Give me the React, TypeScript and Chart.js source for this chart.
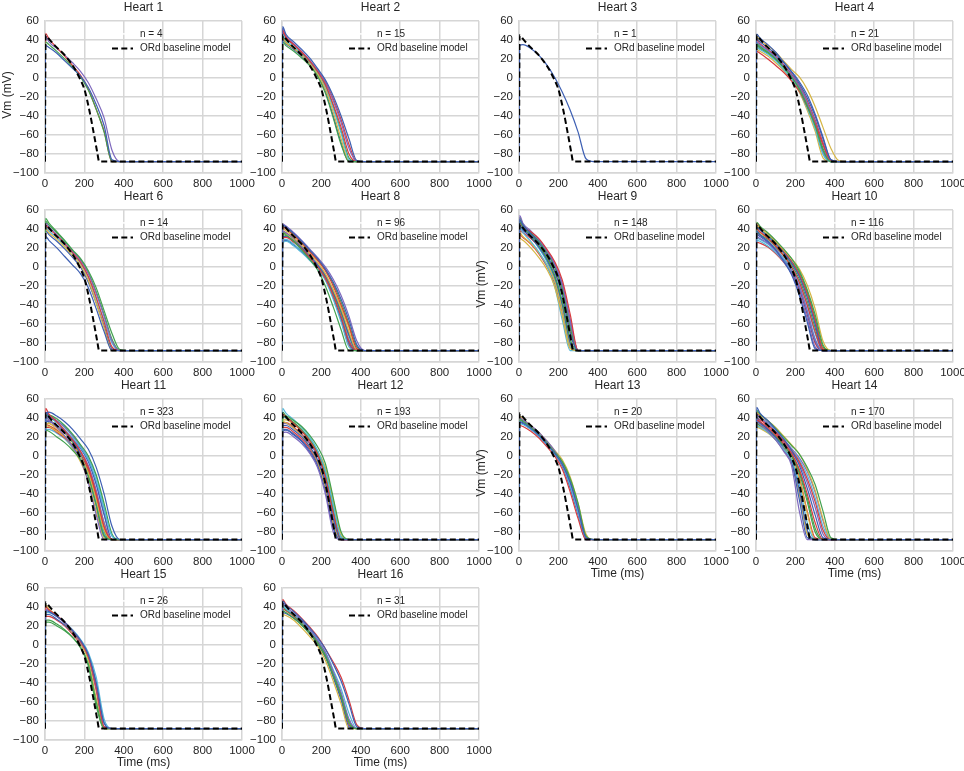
import { useEffect, useRef } from 'react';
import { Chart, LineController, LineElement, PointElement, LinearScale } from 'chart.js';

Chart.register(LineController, LineElement, PointElement, LinearScale);

// sample times (ms) shared by every trace; each trace stops once it is back at rest
const TIMES = [0, 3, 20, 60, 100, 140, 180, 220, 260, 300, 340, 380, 420, 460];
const END_TIME = 1000;
const REST_VM = -88;

// ORd baseline model
const ORD_TIMES = [0, 3, 20, 50, 100, 150, 175, 200, 225, 250, 265, 275, 1000];
const ORD_VM = [-88, 45, 41, 34, 24, 10, 0, -12, -34, -61, -78, -88, -88];

const X_TICKS = [0, 200, 400, 600, 800, 1000];
const Y_TICKS = [-100, -80, -60, -40, -20, 0, 20, 40, 60];

const HEART_NAMES = ['Heart 1', 'Heart 2', 'Heart 3', 'Heart 4', 'Heart 6', 'Heart 8', 'Heart 9',
  'Heart 10', 'Heart 11', 'Heart 12', 'Heart 13', 'Heart 14', 'Heart 15', 'Heart 16'];
const HEART_COUNTS = [4, 15, 1, 21, 14, 96, 148, 116, 323, 193, 20, 170, 26, 31];

const HEART_1 = [
  [-88, 34, 32, 26, 18, 10, 2, -10, -28, -50, -86, -88],
  [-88, 38, 35, 28, 20, 11, 1, -13, -33, -57, -88],
  [-88, 47, 41, 32, 23, 13, 3, -12, -33, -56, -88],
  [-88, 44, 38, 31, 24, 16, 7, -5, -22, -42, -76, -88],
];
const HEART_2 = [
  [-88, 54, 46, 38, 30, 21, 10, -2, -19, -40, -64, -87, -88],
  [-88, 38, 34, 28, 21, 13, 2, -16, -42, -70, -88],
  [-88, 50, 43, 35, 27, 18, 7, -7, -28, -52, -80, -88],
  [-88, 52, 44, 36, 28, 19, 8, -5, -24, -47, -74, -88],
  [-88, 42, 37, 31, 24, 15, 4, -12, -36, -64, -88],
  [-88, 46, 40, 33, 25, 16, 5, -10, -32, -58, -86, -88],
  [-88, 40, 36, 30, 23, 14, 3, -14, -40, -68, -88],
  [-88, 44, 38, 32, 25, 17, 6, -8, -30, -56, -84, -88],
  [-88, 48, 42, 35, 27, 18, 8, -4, -22, -44, -70, -88],
];
const HEART_3 = [
  [-88, 34, 35, 31, 24, 14, 1, -15, -34, -57, -85, -88],
];
const HEART_4 = [
  [-88, 46, 42, 35, 27, 17, 7, -4, -18, -38, -62, -86, -88],
  [-88, 36, 33, 27, 20, 11, 1, -12, -30, -50, -76, -88],
  [-88, 28, 26, 20, 13, 6, -3, -14, -30, -48, -70, -87, -88],
  [-88, 38, 35, 29, 22, 13, 3, -9, -26, -46, -70, -88],
  [-88, 44, 40, 34, 27, 18, 9, 1, -12, -30, -52, -74, -87, -88],
  [-88, 32, 30, 25, 18, 9, -1, -14, -32, -53, -80, -88],
  [-88, 42, 38, 32, 25, 16, 6, -6, -21, -40, -64, -86, -88],
  [-88, 34, 31, 26, 19, 11, 1, -11, -28, -48, -74, -88],
  [-88, 40, 36, 30, 23, 14, 4, -8, -24, -44, -68, -88],
  [-88, 35, 32, 27, 20, 12, 2, -10, -28, -50, -78, -88],
  [-88, 30, 28, 23, 16, 8, -2, -15, -34, -56, -84, -88],
  [-88, 37, 34, 28, 21, 12, 2, -11, -30, -52, -80, -88],
];
const HEART_6 = [
  [-88, 32, 28, 20, 11, 2, -7, -22, -44, -68, -88],
  [-88, 51, 46, 37, 28, 18, 9, -4, -22, -46, -70, -87, -88],
  [-88, 44, 40, 33, 24, 15, 5, -10, -32, -58, -84, -88],
  [-88, 46, 42, 34, 25, 16, 7, -7, -28, -52, -78, -88],
  [-88, 40, 36, 29, 21, 12, 2, -14, -38, -64, -88],
  [-88, 42, 38, 31, 23, 14, 4, -11, -34, -56, -80, -88],
  [-88, 38, 34, 27, 19, 10, 0, -16, -38, -62, -86, -88],
  [-88, 48, 44, 36, 27, 17, 8, -6, -26, -50, -76, -88],
];
const HEART_8 = [
  [-88, 44, 42, 35, 27, 18, 9, -2, -16, -34, -56, -82, -88],
  [-88, 36, 34, 27, 18, 8, -3, -20, -42, -66, -88],
  [-88, 30, 31, 26, 19, 10, 0, -12, -30, -52, -78, -88],
  [-88, 45, 43, 36, 28, 19, 10, 0, -13, -30, -52, -78, -88],
  [-88, 40, 38, 31, 23, 14, 5, -7, -24, -44, -68, -88],
  [-88, 24, 27, 22, 15, 7, -2, -14, -34, -58, -84, -88],
  [-88, 32, 32, 27, 20, 11, 2, -9, -26, -46, -72, -88],
  [-88, 34, 33, 27, 19, 10, 1, -10, -28, -48, -72, -88],
  [-88, 42, 40, 33, 25, 16, 7, -4, -20, -40, -62, -86, -88],
  [-88, 38, 36, 30, 22, 13, 3, -9, -26, -46, -70, -88],
  [-88, 36, 35, 29, 21, 12, 3, -8, -24, -42, -64, -86, -88],
  [-88, 28, 29, 24, 17, 9, 0, -12, -30, -50, -76, -88],
  [-88, 26, 28, 23, 16, 8, -1, -13, -32, -54, -80, -88],
  [-88, 43, 41, 34, 26, 17, 8, -3, -18, -37, -60, -84, -88],
  [-88, 37, 36, 29, 20, 11, 1, -12, -32, -56, -82, -88],
];
const HEART_9 = [
  [-88, 50, 44, 35, 25, 13, -4, -30, -70, -88],
  [-88, 48, 42, 33, 23, 10, -8, -36, -76, -88],
  [-88, 46, 42, 37, 30, 19, 6, -14, -50, -88],
  [-88, 54, 46, 38, 29, 18, 4, -18, -56, -88],
  [-88, 30, 28, 20, 10, -2, -20, -52, -86, -88],
  [-88, 42, 36, 27, 16, 2, -20, -56, -88],
  [-88, 44, 39, 31, 21, 8, -10, -40, -80, -88],
  [-88, 52, 45, 36, 27, 15, 0, -24, -64, -88],
  [-88, 38, 36, 30, 22, 11, -4, -28, -68, -88],
  [-88, 40, 38, 33, 26, 15, 1, -22, -60, -88],
  [-88, 36, 32, 25, 15, 3, -14, -44, -82, -88],
  [-88, 44, 39, 31, 20, 6, -14, -46, -84, -88],
  [-88, 42, 40, 34, 27, 16, 2, -20, -58, -88],
  [-88, 46, 41, 32, 22, 9, -10, -40, -80, -88],
  [-88, 34, 31, 24, 14, 1, -17, -48, -84, -88],
  [-88, 48, 43, 36, 28, 17, 3, -18, -56, -88],
];
const HEART_10 = [
  [-88, 38, 34, 27, 18, 6, -8, -30, -58, -86, -88],
  [-88, 47, 43, 36, 28, 19, 9, -4, -24, -50, -82, -88],
  [-88, 40, 37, 30, 22, 12, 0, -16, -40, -68, -88],
  [-88, 32, 30, 25, 17, 6, -7, -27, -54, -84, -88],
  [-88, 44, 41, 35, 27, 18, 9, -2, -19, -44, -78, -88],
  [-88, 30, 29, 24, 17, 9, -1, -16, -40, -70, -88],
  [-88, 42, 39, 32, 24, 15, 4, -10, -32, -60, -88],
  [-88, 36, 34, 29, 21, 12, 2, -13, -36, -64, -88],
  [-88, 46, 42, 35, 27, 17, 6, -8, -28, -56, -86, -88],
  [-88, 35, 33, 27, 19, 9, -3, -20, -46, -76, -88],
  [-88, 38, 36, 30, 23, 14, 4, -9, -30, -58, -86, -88],
  [-88, 28, 27, 22, 15, 6, -4, -20, -46, -76, -88],
  [-88, 34, 32, 26, 18, 8, -4, -22, -48, -78, -88],
  [-88, 41, 39, 33, 25, 16, 6, -6, -26, -54, -84, -88],
  [-88, 26, 25, 21, 14, 5, -6, -24, -50, -80, -88],
];
const HEART_11 = [
  [-88, 44, 46, 42, 36, 28, 18, 7, -12, -40, -74, -88],
  [-88, 27, 26, 20, 14, 6, -4, -22, -52, -84, -88],
  [-88, 50, 44, 36, 27, 17, 5, -12, -40, -74, -88],
  [-88, 42, 38, 30, 21, 10, -4, -28, -62, -88],
  [-88, 32, 31, 26, 20, 11, 0, -18, -46, -78, -88],
  [-88, 40, 40, 35, 28, 19, 9, -4, -26, -56, -84, -88],
  [-88, 46, 42, 35, 27, 16, 2, -20, -52, -84, -88],
  [-88, 42, 43, 39, 32, 23, 12, 0, -20, -50, -82, -88],
  [-88, 30, 30, 25, 19, 11, 1, -14, -42, -76, -88],
  [-88, 38, 37, 32, 25, 16, 5, -10, -36, -70, -88],
  [-88, 34, 34, 30, 24, 15, 4, -12, -38, -70, -88],
  [-88, 28, 28, 24, 18, 9, -2, -20, -50, -82, -88],
  [-88, 36, 36, 32, 26, 18, 8, -6, -30, -62, -88],
  [-88, 40, 38, 32, 24, 14, 1, -16, -46, -80, -88],
  [-88, 33, 32, 27, 20, 11, 0, -16, -44, -78, -88],
  [-88, 45, 43, 37, 30, 21, 10, -4, -28, -60, -88],
  [-88, 38, 35, 28, 19, 8, -6, -26, -58, -86, -88],
  [-88, 41, 41, 37, 31, 22, 11, -2, -22, -54, -84, -88],
];
const HEART_12 = [
  [-88, 32, 32, 27, 20, 10, -4, -28, -66, -88],
  [-88, 40, 42, 37, 31, 22, 10, -8, -44, -80, -88],
  [-88, 44, 41, 34, 26, 16, 2, -22, -60, -88],
  [-88, 24, 25, 20, 13, 3, -12, -40, -80, -88],
  [-88, 36, 35, 29, 21, 10, -6, -32, -70, -88],
  [-88, 50, 45, 38, 30, 20, 6, -16, -52, -86, -88],
  [-88, 26, 27, 22, 15, 4, -10, -36, -76, -88],
  [-88, 46, 42, 35, 27, 17, 4, -18, -56, -88],
  [-88, 30, 30, 25, 18, 8, -6, -30, -70, -88],
  [-88, 34, 34, 29, 22, 13, 0, -24, -62, -88],
  [-88, 38, 38, 33, 26, 17, 5, -12, -46, -82, -88],
  [-88, 42, 40, 34, 27, 18, 6, -14, -50, -84, -88],
  [-88, 28, 28, 23, 16, 6, -8, -34, -74, -88],
  [-88, 41, 40, 35, 28, 18, 4, -18, -54, -86, -88],
  [-88, 35, 35, 30, 23, 14, 2, -20, -58, -88],
];
const HEART_13 = [
  [-88, 36, 35, 29, 22, 13, 3, -9, -28, -56, -86, -88],
  [-88, 38, 36, 30, 23, 14, 4, -6, -24, -50, -84, -88],
  [-88, 32, 31, 26, 19, 10, 0, -14, -38, -66, -88],
  [-88, 40, 38, 32, 25, 16, 6, -8, -28, -56, -86, -88],
  [-88, 42, 39, 32, 25, 16, 6, -4, -22, -50, -82, -88],
  [-88, 34, 33, 28, 21, 12, 2, -10, -32, -60, -88],
  [-88, 35, 34, 28, 21, 12, 2, -11, -34, -62, -88],
  [-88, 39, 37, 31, 24, 15, 5, -7, -26, -52, -84, -88],
];
const HEART_14 = [
  [-88, 51, 45, 37, 28, 18, 6, -10, -34, -62, -86, -88],
  [-88, 48, 44, 37, 29, 20, 11, 2, -12, -30, -58, -86, -88],
  [-88, 38, 36, 30, 22, 13, 3, -14, -40, -70, -88],
  [-88, 36, 33, 26, 17, 5, -10, -58, -88],
  [-88, 46, 43, 37, 30, 21, 12, 2, -14, -36, -66, -88],
  [-88, 32, 30, 25, 17, 7, -4, -30, -70, -88],
  [-88, 40, 36, 28, 19, 7, -6, -46, -86, -88],
  [-88, 34, 32, 27, 20, 11, 0, -18, -48, -80, -88],
  [-88, 40, 38, 32, 25, 16, 6, -6, -24, -48, -78, -88],
  [-88, 44, 40, 33, 25, 15, 4, -8, -28, -54, -82, -88],
  [-88, 30, 29, 24, 17, 8, -3, -24, -60, -88],
  [-88, 42, 40, 34, 26, 17, 7, -4, -20, -44, -74, -88],
  [-88, 38, 35, 28, 20, 9, -4, -36, -78, -88],
  [-88, 36, 34, 28, 21, 12, 2, -16, -44, -76, -88],
  [-88, 46, 41, 33, 24, 13, 1, -22, -58, -86, -88],
  [-88, 43, 41, 35, 27, 18, 8, -2, -16, -38, -68, -88],
  [-88, 34, 31, 25, 17, 6, -7, -40, -82, -88],
];
const HEART_15 = [
  [-88, 36, 35, 30, 24, 15, 5, -10, -40, -82, -88],
  [-88, 24, 24, 20, 15, 8, -2, -20, -60, -88],
  [-88, 40, 37, 31, 24, 15, 4, -12, -44, -86, -88],
  [-88, 38, 36, 30, 23, 14, 3, -12, -46, -86, -88],
  [-88, 42, 38, 31, 23, 13, 2, -16, -56, -88],
  [-88, 34, 34, 30, 24, 16, 6, -8, -34, -78, -88],
  [-88, 32, 32, 27, 21, 13, 3, -11, -40, -82, -88],
  [-88, 26, 26, 22, 16, 8, -3, -22, -64, -88],
  [-88, 30, 30, 26, 20, 11, 1, -14, -48, -88],
];
const HEART_16 = [
  [-88, 46, 42, 35, 27, 18, 8, -4, -20, -38, -62, -86, -88],
  [-88, 36, 34, 28, 21, 12, 2, -12, -32, -54, -82, -88],
  [-88, 48, 43, 36, 28, 19, 9, -4, -18, -34, -58, -84, -88],
  [-88, 44, 40, 33, 25, 16, 5, -8, -28, -50, -78, -88],
  [-88, 32, 31, 26, 18, 9, -1, -16, -38, -62, -88],
  [-88, 42, 38, 32, 25, 16, 6, -7, -26, -46, -72, -88],
  [-88, 34, 33, 28, 21, 12, 1, -13, -34, -58, -86, -88],
  [-88, 40, 37, 31, 23, 14, 4, -10, -30, -52, -80, -88],
  [-88, 38, 36, 30, 22, 13, 3, -11, -32, -56, -84, -88],
];

const HEART_TRACES = [HEART_1, HEART_2, HEART_3, HEART_4, HEART_6, HEART_8, HEART_9,
  HEART_10, HEART_11, HEART_12, HEART_13, HEART_14, HEART_15, HEART_16];

// panels that carry axis titles
const Y_LABEL_PANELS = [0, 6, 10];
const X_LABEL_PANELS = [10, 11, 12, 13];

const PALETTE = ['#3d5fb3', '#42a14f', '#d83c3f', '#7e68bd', '#d6b645', '#55b7d8'];
const GRID = '#d6d6d6';
const TEXT = '#262626';
const FONT = "'Liberation Sans', Arial, sans-serif";

// layout (px)
const COL_X = [45, 282, 519, 756];
const ROW_Y = [16, 205, 394, 583];
const PLOT_W = 197;
const PLOT_H = 157;
const AXIS_W = 45;
const AXIS_H = 22;
const PAD_TOP = 8;
const PAD_RIGHT = 18;

const fmtTick = (v: number) => (v < 0 ? '\u2212' + Math.abs(v) : String(v));

function legendPlugin(n: number) {
  return {
    id: 'apLegend',
    afterDatasetsDraw(chart: any) {
      const { ctx, chartArea } = chart;
      const { left, top } = chartArea;
      ctx.save();
      // invisible white handle of the "n =" entry
      ctx.strokeStyle = '#ffffff';
      ctx.lineWidth = 1.5;
      ctx.beginPath();
      ctx.moveTo(left + 67, top + 13);
      ctx.lineTo(left + 88, top + 13);
      ctx.stroke();
      ctx.strokeStyle = '#000000';
      ctx.lineWidth = 2;
      ctx.setLineDash([6, 3.3]);
      ctx.beginPath();
      ctx.moveTo(left + 67, top + 27.5);
      ctx.lineTo(left + 88, top + 27.5);
      ctx.stroke();
      ctx.setLineDash([]);
      ctx.fillStyle = TEXT;
      ctx.font = `10px ${FONT}`;
      ctx.textBaseline = 'middle';
      ctx.textAlign = 'left';
      ctx.fillText(`n = ${n}`, left + 95, top + 13);
      ctx.fillText('ORd baseline model', left + 95, top + 27.5);
      ctx.restore();
    },
  };
}

function HeartPanel({ index }: { index: number }) {
  const canvasRef = useRef<HTMLCanvasElement>(null);
  const col = index % 4;
  const row = Math.floor(index / 4);
  const x0 = COL_X[col];
  const y0 = ROW_Y[row];

  useEffect(() => {
    if (!canvasRef.current) return;
    const traces = HEART_TRACES[index];
    const datasets: any[] = [
      {
        data: ORD_TIMES.map((t, i) => ({ x: t, y: ORD_VM[i] })),
        borderColor: '#000000',
        borderWidth: 2,
        borderDash: [6, 3.3],
        pointRadius: 0,
        cubicInterpolationMode: 'monotone',
      },
      ...traces.map((tr, k) => ({
        data: [...tr.map((v, i) => ({ x: TIMES[i], y: v })), { x: END_TIME, y: REST_VM }],
        borderColor: PALETTE[k % PALETTE.length],
        borderWidth: 1.2,
        pointRadius: 0,
        cubicInterpolationMode: 'monotone',
      })),
    ];

    const tickFont = { family: FONT, size: 11.5 };
    const chart = new Chart(canvasRef.current, {
      type: 'line',
      data: { datasets },
      options: {
        animation: false,
        responsive: false,
        events: [],
        layout: { padding: { top: PAD_TOP, right: PAD_RIGHT, left: 0, bottom: 0 } },
        plugins: { legend: { display: false }, tooltip: { enabled: false } },
        scales: {
          x: {
            type: 'linear',
            min: 0,
            max: END_TIME,
            afterBuildTicks: (s: any) => { s.ticks = X_TICKS.map((v) => ({ value: v })); },
            afterFit: (s: any) => { s.height = AXIS_H; },
            grid: { color: GRID, lineWidth: 1.5, drawTicks: false },
            border: { color: GRID, width: 1.5 },
            ticks: { color: TEXT, font: tickFont, padding: 4, maxRotation: 0, autoSkip: false, callback: (v: any) => String(v) },
          },
          y: {
            type: 'linear',
            min: -100,
            max: 60,
            afterBuildTicks: (s: any) => { s.ticks = Y_TICKS.map((v) => ({ value: v })); },
            afterFit: (s: any) => { s.width = AXIS_W; },
            grid: { color: GRID, lineWidth: 1.5, drawTicks: false },
            border: { color: GRID, width: 1.5 },
            ticks: { color: TEXT, font: tickFont, padding: 6, autoSkip: false, callback: (v: any) => fmtTick(Number(v)) },
          },
        },
      } as any,
      plugins: [legendPlugin(HEART_COUNTS[index])],
    });
    return () => chart.destroy();
  }, [index]);

  const textBase = { position: 'absolute' as const, color: TEXT, fontFamily: FONT, fontSize: 12, textAlign: 'center' as const, whiteSpace: 'nowrap' as const };

  return (
    <>
      <canvas
        ref={canvasRef}
        width={AXIS_W + PLOT_W + PAD_RIGHT}
        height={PAD_TOP + PLOT_H + AXIS_H}
        style={{ position: 'absolute', left: x0 - AXIS_W, top: y0 - PAD_TOP }}
      />
      <div style={{ ...textBase, left: x0, top: y0 - 17, width: PLOT_W, height: 16, lineHeight: '16px' }}>
        {HEART_NAMES[index]}
      </div>
      {Y_LABEL_PANELS.includes(index) && (
        <div
          style={{
            ...textBase,
            left: x0 - 38 - 50,
            top: y0 + PLOT_H / 2 - 8,
            width: 100,
            height: 16,
            lineHeight: '16px',
            transform: 'rotate(-90deg)',
          }}
        >
          Vm (mV)
        </div>
      )}
      {X_LABEL_PANELS.includes(index) && (
        <div style={{ ...textBase, left: x0, top: y0 + PLOT_H + 22 - 8, width: PLOT_W, height: 16, lineHeight: '16px' }}>
          Time (ms)
        </div>
      )}
    </>
  );
}

export default function App() {
  return (
    <div style={{ position: 'absolute', left: 0, top: 0, width: 964, height: 771, background: '#ffffff' }}>
      {HEART_NAMES.map((_, i) => (
        <HeartPanel key={i} index={i} />
      ))}
    </div>
  );
}
